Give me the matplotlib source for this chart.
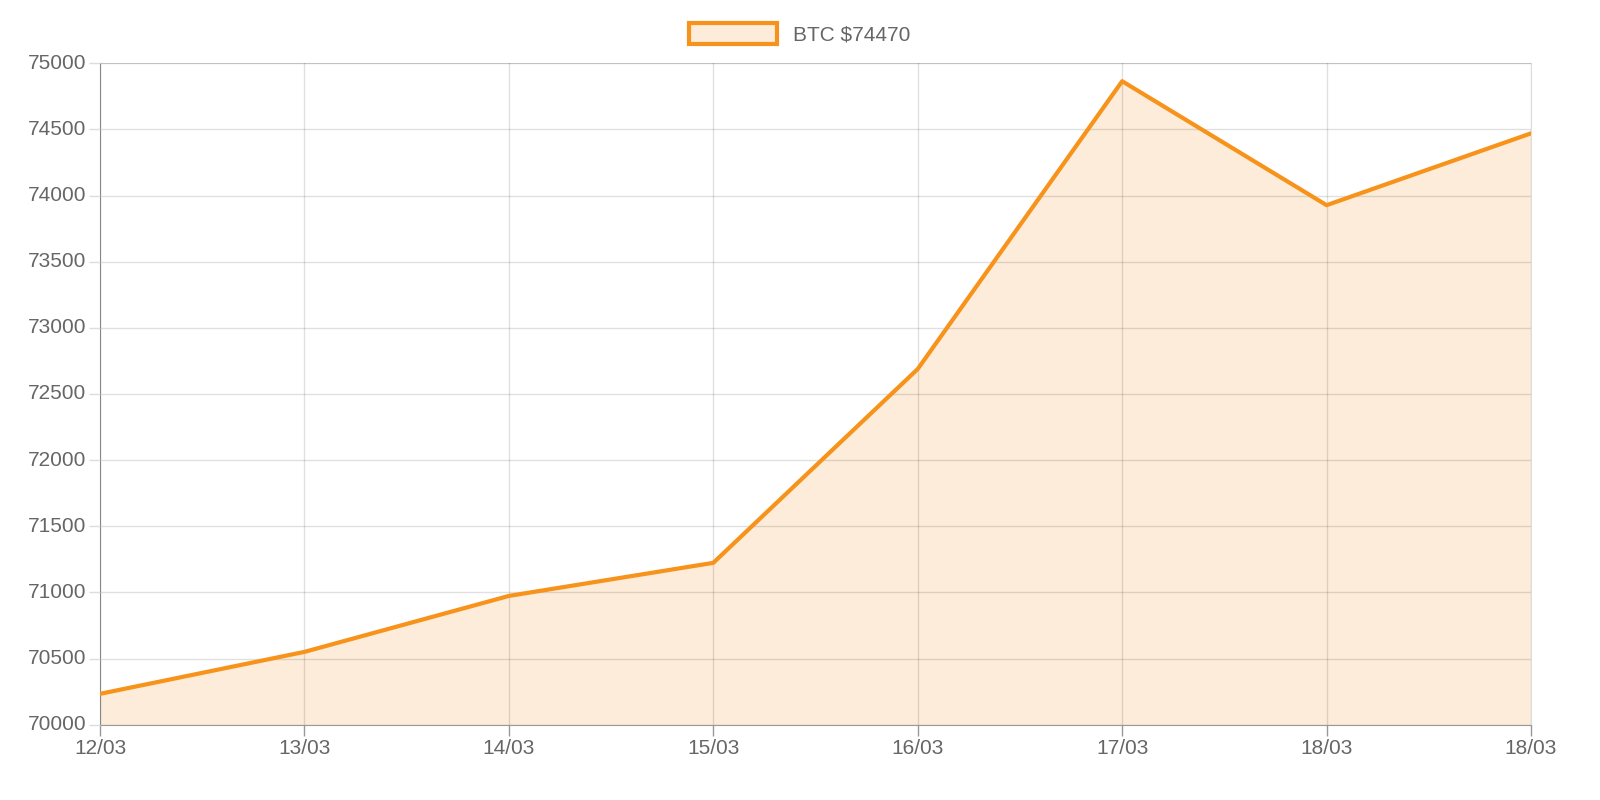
import matplotlib.pyplot as plt
from matplotlib.patches import Patch

labels = ['12/03', '13/03', '14/03', '15/03', '16/03', '17/03', '18/03', '18/03']
prices = [70234, 70551, 70974, 71224, 72689, 74864, 73927, 74470]
y_ticks = list(range(70000, 75001, 500))

plt.rcParams['font.family'] = ['Liberation Sans', 'DejaVu Sans']
orange = '#f7931a'
fill = '#fcecd9'
grey = '#666666'

fig = plt.figure(figsize=(16, 8), dpi=100)
ax = fig.add_axes([0.0625, 0.094, 0.8944, 0.827])
x = list(range(len(prices)))
ax.fill_between(x, prices, 70000, color=fill, zorder=1)
ax.plot(x, prices, color=orange, lw=3, zorder=3)

ax.set_xlim(0, len(prices) - 1)
ax.set_ylim(70000, 75000)
ax.set_xticks(x)
ax.set_xticklabels(labels)
ax.set_yticks(y_ticks)
ax.grid(True, color='#000000', alpha=0.12, lw=1, zorder=2)
ax.set_axisbelow(False)
for s in ['top', 'right']:
    ax.spines[s].set_color('#dddddd')
for s in ['left', 'bottom']:
    ax.spines[s].set_color('#999999')
ax.tick_params(colors=grey, labelsize=15, length=8, width=1)
ax.tick_params(axis='x', colors='#999999', labelcolor=grey, pad=2)
ax.tick_params(axis='y', colors='#dddddd', labelcolor=grey, pad=2, length=8)
for t in ax.get_yticklabels():
    t.set_verticalalignment('center')

handle = Patch(facecolor=fill, edgecolor=orange, linewidth=3)
fig.legend([handle], ['BTC $74470'], loc='upper center', bbox_to_anchor=(0.5, 0.995),
           frameon=False, fontsize=15, labelcolor=grey, handlelength=4.2, handleheight=1.2)

fig.savefig('out.png', dpi=100, facecolor='white')
